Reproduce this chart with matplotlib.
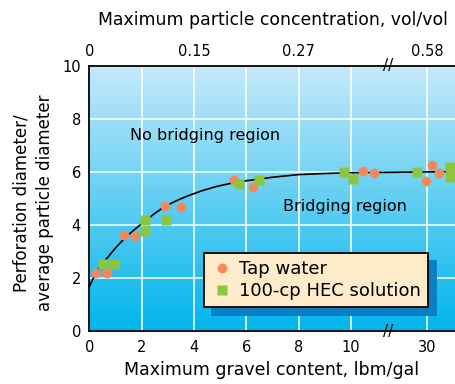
import numpy as np
import matplotlib
matplotlib.use('Agg')
import matplotlib.pyplot as plt
from matplotlib.colors import LinearSegmentedColormap

plt.rcParams['font.family'] = ['DejaVu Sans']

# ---- data ----
tap_x = [0.26, 0.69, 1.34, 1.75, 2.89, 3.50, 5.54, 6.27, 10.47, 10.88,
         29.96, 30.19, 30.47, 31.02]
tap_y = [2.18, 2.18, 3.62, 3.59, 4.71, 4.68, 5.71, 5.42, 6.04, 5.95,
         5.66, 6.25, 5.96, 5.99]
hec_x = [0.53, 0.94, 2.13, 2.13, 2.92, 5.72, 6.48, 9.73, 10.07,
         29.62, 30.87, 30.87]
hec_y = [2.55, 2.55, 4.19, 3.79, 4.19, 5.55, 5.69, 6.00, 5.74,
         6.00, 6.20, 5.82]
curve_x = [0, 0.15, 0.33, 0.5, 0.71, 0.95, 1.22, 1.5, 1.86, 2.2, 2.5,
           2.8, 3.13, 3.45, 3.77, 4.3, 4.85, 5.4, 5.95, 7.0, 8.0, 9.0,
           10.0, 30.0, 31.6]
curve_y = [1.68, 2.0, 2.31, 2.56, 2.79, 3.08, 3.37, 3.64, 3.94, 4.20, 4.44,
           4.64, 4.82, 4.97, 5.10, 5.29, 5.45, 5.57, 5.66, 5.80, 5.90, 5.94,
           5.97, 6.0, 6.01]

bottom_ticks = [0, 2, 4, 6, 8, 10, 30]
top_ticks = [0, 4, 8, 30]
top_labels = ['0', '0.15', '0.27', '0.58']
y_ticks = [0, 2, 4, 6, 8, 10]

# broken x axis: 11.4 .. 28.5 squeezed out
BRK_LO, BRK_HI = 11.4, 28.5


def fwd(x):
    x = np.asarray(x, dtype=float)
    return np.where(x <= BRK_LO, x,
                    np.where(x >= BRK_HI, x - (BRK_HI - BRK_LO), BRK_LO))


def inv(y):
    y = np.asarray(y, dtype=float)
    return np.where(y <= BRK_LO, y, y + (BRK_HI - BRK_LO))


fig = plt.figure(figsize=(4.55, 3.84), dpi=100)
ax = fig.add_axes([0.1963, 0.1372, 0.834, 0.6918])

# gradient background
cmap = LinearSegmentedColormap.from_list('bg', ['#00b5ec', '#c6e9f9'])
grad = np.linspace(0, 1, 256).reshape(-1, 1)
ax.imshow(grad, extent=[0, 1, 0, 1], transform=ax.transAxes, aspect='auto',
          cmap=cmap, origin='lower', zorder=0)

ax.set_xscale('function', functions=(fwd, inv))
ax.set_xlim(0, 31.6)
ax.set_ylim(0, 10)
ax.set_xticks(bottom_ticks)
ax.set_yticks(y_ticks)
ax.minorticks_off()
ax.tick_params(length=0, labelsize=10.5, pad=6)
ax.grid(True, color='white', lw=1.1)
ax.set_axisbelow(True)

for s in ['left', 'bottom', 'top']:
    ax.spines[s].set_linewidth(1.3)
ax.spines['right'].set_visible(False)

ax.plot(curve_x, curve_y, color='black', lw=1.2, zorder=2)
ax.plot(tap_x, tap_y, 'o', color='#f5875a', ms=7, mec='none', zorder=3,
        label='Tap water')
ax.plot(hec_x, hec_y, 's', color='#8cc63f', ms=7, mec='none', zorder=3,
        label='100-cp HEC solution')

ax.text(1.56, 7.36, 'No bridging region', fontsize=11.5, va='center')
ax.text(7.39, 4.69, 'Bridging region', fontsize=11.5, va='center')

# break marks
for yy in (0, 10):
    ax.text(BRK_LO, yy, '//', fontsize=11, ha='center', va='center',
            clip_on=False, zorder=5)

leg = ax.legend(loc='lower left', bbox_to_anchor=(0.302, 0.0915),
                borderaxespad=0, fancybox=False, edgecolor='black',
                facecolor='#fdebc9', framealpha=1, fontsize=13,
                handletextpad=0.36, handlelength=1.2, borderpad=0.38,
                labelspacing=0.22,
                shadow={'color': '#0a7ec3', 'alpha': 1, 'ox': 5.8, 'oy': -5.8})
leg.get_frame().set_linewidth(1.3)

# top axis
ax2 = ax.twiny()
ax2.set_xscale('function', functions=(fwd, inv))
ax2.set_xlim(ax.get_xlim())
ax2.set_xticks(top_ticks)
ax2.set_xticklabels(top_labels)
ax2.minorticks_off()
ax2.tick_params(length=0, labelsize=10.5, pad=5)
for s in ax2.spines.values():
    s.set_visible(False)

fig.text(272.5 / 455, 1 - 20.3 / 384,
         'Maximum particle concentration, vol/vol',
         fontsize=12.4, ha='center', va='center')
fig.text(272 / 455, 1 - 370 / 384, 'Maximum gravel content, lbm/gal',
         fontsize=12.5, ha='center', va='center')
fig.text(33 / 455, 1 - 203 / 384,
         'Perforation diameter/\naverage particle diameter',
         fontsize=12, rotation=90, ha='center', va='center',
         multialignment='center', linespacing=1.4)

fig.savefig('out.png', dpi=100)
